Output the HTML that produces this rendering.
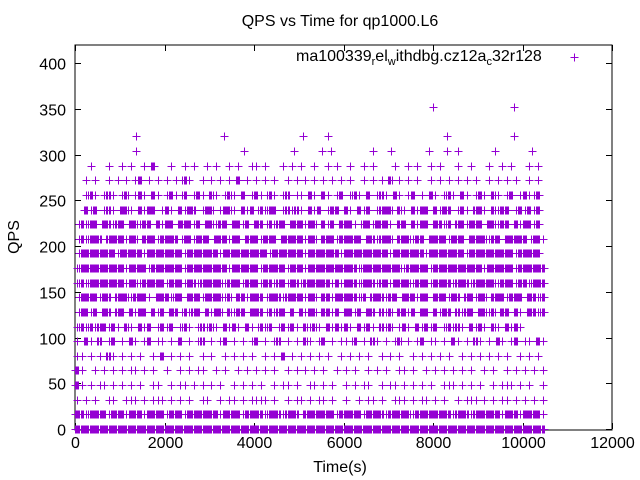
<!DOCTYPE html>
<html><head><meta charset="utf-8"><style>
html,body{margin:0;padding:0;background:#fff;}
svg{display:block;font-family:"Liberation Sans",sans-serif;}
</style></head><body>
<svg id="chart" width="640" height="480">
<rect x="0" y="0" width="640" height="480" fill="#fff"/>
<text x="340" y="26" text-anchor="middle" font-size="16">QPS vs Time for qp1000.L6</text>
<text x="340" y="472" text-anchor="middle" font-size="16">Time(s)</text>
<text x="19" y="237" text-anchor="middle" font-size="16" transform="rotate(-90 19 237)">QPS</text>
<g id="axes"></g>
<g id="points"></g>
<g>
<text x="296" y="61" font-size="16">ma100339<tspan font-size="11" dy="4">r</tspan><tspan dy="-4">el</tspan><tspan font-size="11" dy="4">w</tspan><tspan dy="-4">ithdbg.cz12a</tspan><tspan font-size="11" dy="4">c</tspan><tspan dy="-4">32r128</tspan></text>
<path d="M570.5 57.5h8M574.5 53.5v8" stroke="#9400d3" stroke-width="1"/>
</g>
</svg>
<script>
const xTicks=[0,2000,4000,6000,8000,10000,12000];
const yTicks=[0,50,100,150,200,250,300,350,400];
const levelQps=[0,16,32,48,64,80,96,112,128,144,160,176,192,208,224,240,256,272,288];
const levelPattern=[
"#########################################################################################################",
"##+####+###+###+####+###+#######+####+####+###+###.#######+#####+####+#####+########+###+######+###+####+#",
"+.+.+..++..+++.+.+++.+.+.+..++..+.++.+.++++.+..+.++.+.++.+..+..+.++.+..+++.+.++.+.+..+.+++.+.+.++.+.+.+.+",
"#+.+.++.+.+.+.+..++..+.++.+.+.+.+..+.+.+.+..+.++.+..++.+.+..+.+.++..+.++.+.+.+.+..+++.+.+.+..+.+++.+.+..+",
"#+..+.+.+.+.++.+.+..+..+.+.++..+.+..+.+.+.+.+..+.+.+.+.+..+.+.+..+.+.+..++.+..+.+.+.+.+.+..+.+..+.+.+.+.+",
"++.+.+.#+.+.+.+..+.#.+.+.+..+.+..+.+.+.+..+.+.#.+.+.+.+.+..+.+.+.+..+.+.+..+.+.+.+.+..+.+.+.+.+.+..+.+.+.",
"+.#+.#.+#.+.#+.+#.++.+.#.+.+#.+.+#.+.+.+#.+.+#.+.+.#+.+#.+.++.#.+.#+.+.+#.+.+#.++.+.#+.+.#+.+.#+.+#.++.#+.",
"+#+#+##+#+.#+.#+#.+#+#.+#+.+#+#+.#+#+.#+.#+#.+#+#+.#+#+.#+#+#+.#+#+.#+#.+#+.#+#+#.+#+#+.#+#+.#+.#+#+",
".##+#.##.##.#+##.#+#.##.#+##.#+##.#+##.###.#+##.#.#+##.##+#.##+#.##.#+#.##+#.##.#+##.#+##.##+#.##.#+.##+#",
".####+##.###+###+.###+##.###+####+#.##+###.###+####+##.##+#####+#.###+##.###+##.###+##.##+##.###+###.##+#",
"+#+########+##+#####+###+##+#####+###+###+##+##+##+######+#+###+###+##+####+###+####+###+#####+###+##+###+##+",
"+##########+####+#######+#########+######+#####+###+###########+#########+#####+###########+######+#######",
".########+#####+########+#######+##########+#######+#######+##########+#######+########+##########+#####.",
".#+###.####+##.###+####.##+###.###+##.###+###.#####+##.###+#####.##+###.###+##.####+###.####+##.#####.##+#.",
".#+##.##+##.##+##.#+##.###+#.##+##.##+#.##.#+##.###+##.#+#.###+.##+###+.##.#+##.##+#.##+###.##+##.#+##+#.",
"..#+#.+#+.##+.#+##.+#+.#+##.+##.+##+.#+#.#+##.+#+#+.#+#.+##.#+.#+#.+###.#+.#+##.#+##.+#+.##+.#+##.+#+#+#.",
"..+#+.+#+.+#.+#+.#+.+#+.#.+#+.#+.+#+.#.+#+.#+.+#.++.#+.#+.+#.+#+.#.+#+.#+.+#.+.#+.+#+.#+.+#+.#+.+#.+#++#.",
"..+.+..+.+.+.+#.+.+.+.+.#+..+.+.+.+.#.+.+.+.+..+.+.+.+.+.+.+.+..+.+.+.#.+.+.+..+.+.+.+.+.+..+.+.+.+..+.+.+.",
"...+...+..+.+..+.#...+..+.+..+.+..+.+..++.+...+.+.+..+..+.+..+..+.+....+..+.+..+.+...+..+...+..+.+...+.+.."
];
const t304=[1370,3770,4890,5520,5720,6660,7070,7920,8320,8550,9380,10210];
const t320=[1370,3340,5090,5650,8320,9820];
const t352=[8000,9800];
const X0=75,X1=612,Y0=429,Y1=45,XMAX=12000,YMAX=420;
function xs(t){return X0+t/XMAX*(X1-X0);}
function ys(q){return Y0-q/YMAX*(Y0-Y1);}
const NS="http://www.w3.org/2000/svg";
const axes=document.getElementById('axes');
const pts=document.getElementById('points');
let frame=document.createElementNS(NS,'rect');
frame.setAttribute('x',X0);frame.setAttribute('y',Y1);frame.setAttribute('width',X1-X0);frame.setAttribute('height',Y0-Y1+1);
frame.setAttribute('fill','none');frame.setAttribute('stroke','#000');


axes.appendChild(frame);
xTicks.forEach(v=>{
 const x=Math.round(xs(v))+0.5;
 const l=document.createElementNS(NS,'path');
 l.setAttribute('d',`M${x} ${Y0}v-6M${x} ${Y1}v6`);l.setAttribute('stroke','#000');
 
 
 axes.appendChild(l);
 const t=document.createElementNS(NS,'text');
 t.setAttribute('x',x);t.setAttribute('y',Y0+19);t.setAttribute('text-anchor','middle');t.setAttribute('font-size','16');
 t.textContent=v;
 
 
 axes.appendChild(t);
});
yTicks.forEach(v=>{
 const y=Math.round(ys(v))+0.5;
 const l=document.createElementNS(NS,'path');
 l.setAttribute('d',`M${X0} ${y}h6M${X1} ${y}h-6`);l.setAttribute('stroke','#000');
 
 
 axes.appendChild(l);
 const t=document.createElementNS(NS,'text');
 t.setAttribute('x',X0-9);t.setAttribute('y',y+6);t.setAttribute('text-anchor','end');t.setAttribute('font-size','16');
 t.textContent=v;
 
 
 axes.appendChild(t);
});
let d='';
function addPt(t,q){const x=Math.round(xs(t))+0.5,y=Math.round(ys(q))+0.5;d+=`M${x-4} ${y}h8M${x} ${y-4}v8`;}
levelPattern.forEach((s,i)=>{
 const q=levelQps[i];
 for(let b=0;b<s.length&&b<105;b++){
  const c=s[b];
  if(c==='#'){for(let k=0;k<4;k++)addPt(b*100+k*25,q);}
  else if(c==='+'){addPt(b*100+50,q);}
 }
});
t304.forEach(t=>addPt(t,304));
t320.forEach(t=>addPt(t,320));
t352.forEach(t=>addPt(t,352));
const p=document.createElementNS(NS,'path');
p.setAttribute('d',d);p.setAttribute('stroke','#9400d3');p.setAttribute('stroke-width','1');p.setAttribute('fill','none');


pts.appendChild(p);
</script>
</body></html>
